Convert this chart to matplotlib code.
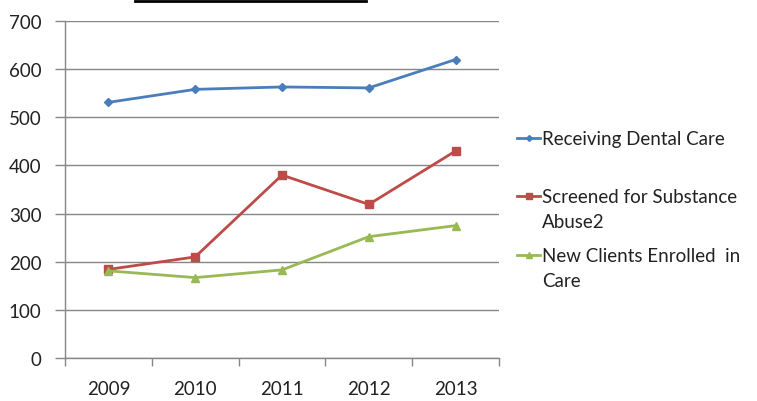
import numpy as np
import matplotlib
matplotlib.use("Agg")
import matplotlib.pyplot as plt
from matplotlib.lines import Line2D

plt.rcParams['font.family'] = ['Lato', 'DejaVu Sans']

years = ['2009', '2010', '2011', '2012', '2013']
dental = [531, 558, 563, 561, 620]
screened = [184, 210, 380, 319, 430]
new_clients = [181, 167, 183, 252, 275]

names = ['Receiving Dental Care', 'Screened for Substance\nAbuse2', 'New Clients Enrolled  in\nCare']
colors = ['#4A7EBB', '#BE4B48', '#98B954']
markers = ['D', 's', '^']
msizes = [4, 6, 6]

fig = plt.figure(figsize=(7.57, 4.02), dpi=100)
ax = fig.add_axes([65 / 757, 43 / 402, 434 / 757, 337 / 402])

x = np.arange(len(years))
for vals, c, m, ms in zip([dental, screened, new_clients], colors, markers, msizes):
    ax.plot(x, vals, color=c, lw=2, marker=m, ms=ms, mec=c, mfc=c, zorder=3)

ax.set_xlim(-0.5, len(years) - 0.5)
ax.set_ylim(0, 700)
ax.set_yticks(range(0, 701, 100))
ax.set_xticks(np.arange(-0.5, len(years), 1))
ax.set_xticklabels([])
ax.set_xticks(x, minor=True)
ax.set_xticklabels(years, minor=True)
ax.tick_params(axis='x', which='minor', length=0, pad=16, labelsize=13.5, labelcolor='#222222')
ax.tick_params(axis='x', which='major', length=6, color='#868686', width=1)
ax.tick_params(axis='y', length=7, color='#868686', width=1, labelsize=13.5, labelcolor='#222222', pad=10)
ax.grid(axis='y', color='#868686', lw=1)
ax.set_axisbelow(True)
for s in ['top', 'right']:
    ax.spines[s].set_visible(False)
for s in ['left', 'bottom']:
    ax.spines[s].set_color('#868686')
    ax.spines[s].set_linewidth(1)

# legend drawn by hand so the key sits on the first text line
H = 402.0
W = 757.0
leg_y = [139, 197, 256]
for ly, name, c, m, ms in zip(leg_y, names, colors, markers, msizes):
    fig.add_artist(Line2D([517 / W, 540 / W], [1 - ly / H] * 2, color=c, lw=2,
                          transform=fig.transFigure))
    fig.add_artist(Line2D([528.5 / W], [1 - ly / H], color=c, marker=m, ms=ms - 1,
                          transform=fig.transFigure))
    fig.text(542 / W, 1 - (ly - 8) / H, name, fontsize=13.5, color='#222222',
             va='top', ha='left', linespacing=1.55)

# title underline cut at the top edge
fig.add_artist(Line2D([135 / W, 366 / W], [1 - 1.5 / H] * 2, color='black', lw=2,
                      transform=fig.transFigure))

fig.savefig('out.png', dpi=100)
